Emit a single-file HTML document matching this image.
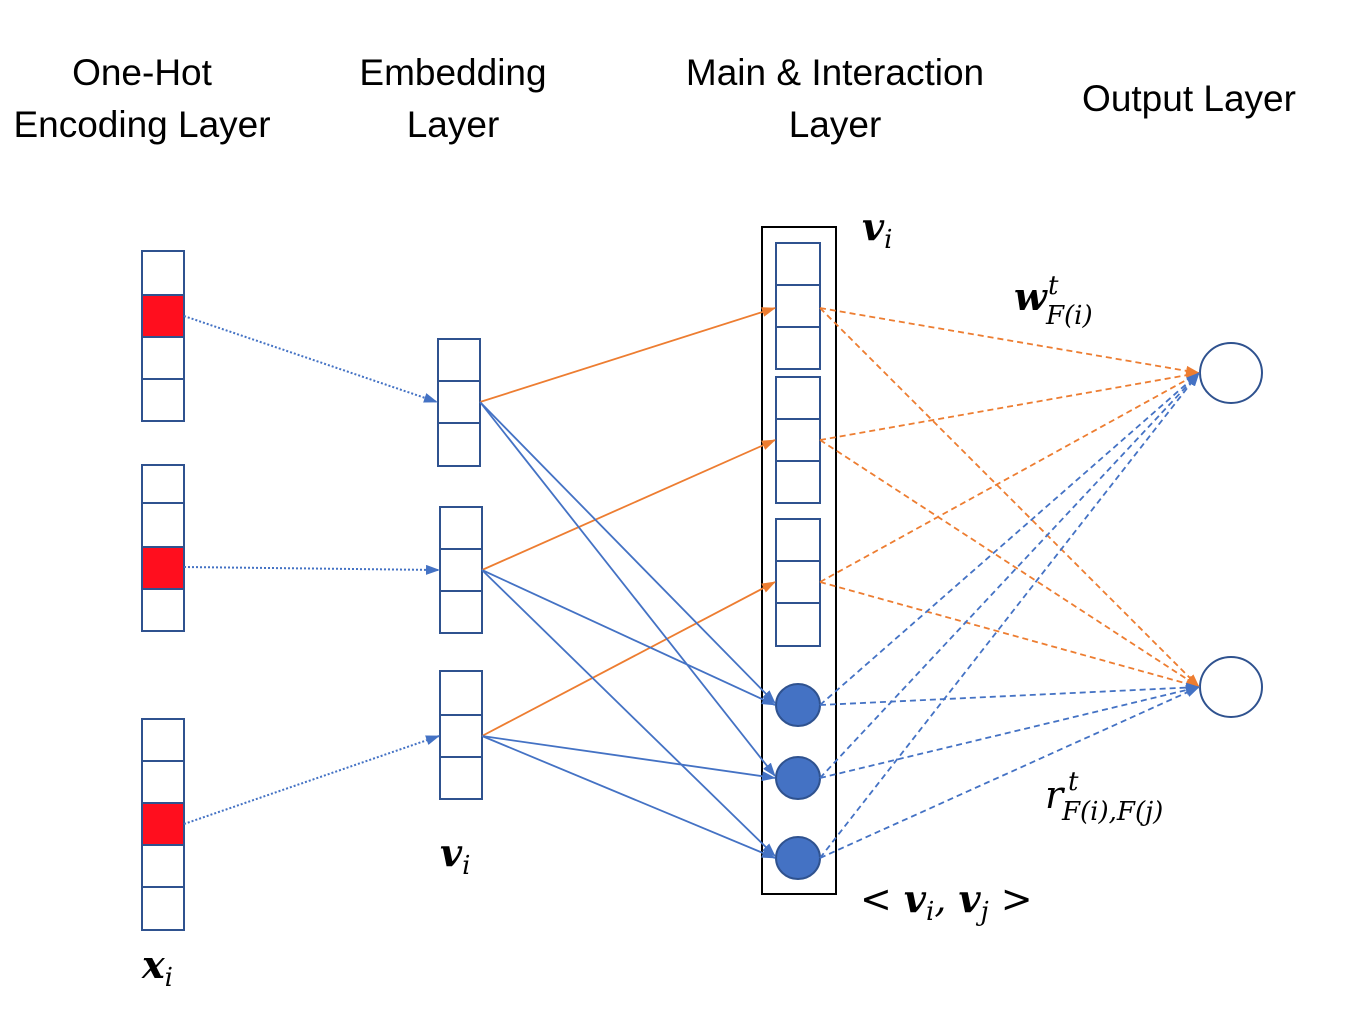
<!DOCTYPE html>
<html><head><meta charset="utf-8"><style>
html,body{margin:0;padding:0;background:#fff;}
svg{display:block}
.h{font-family:"Liberation Sans",sans-serif;font-size:37px;fill:#000;text-anchor:middle}
.m{font-family:"DejaVu Serif","Liberation Serif",serif;font-style:italic;fill:#000}
</style></head><body>
<svg width="1368" height="1022" viewBox="0 0 1368 1022" xmlns="http://www.w3.org/2000/svg">
<defs>
<marker id="ab" markerWidth="14" markerHeight="10" refX="13" refY="5" orient="auto" markerUnits="userSpaceOnUse"><path d="M0,0 L14,5 L0,10 z" fill="#4472C4"/></marker>
<marker id="ao" markerWidth="14" markerHeight="10" refX="13" refY="5" orient="auto" markerUnits="userSpaceOnUse"><path d="M0,0 L14,5 L0,10 z" fill="#ED7D31"/></marker>
</defs>
<text class="h" x="142" y="85">One-Hot</text>
<text class="h" x="142" y="137">Encoding Layer</text>
<text class="h" x="453" y="85">Embedding</text>
<text class="h" x="453" y="137">Layer</text>
<text class="h" x="835" y="85">Main &amp; Interaction</text>
<text class="h" x="835" y="137">Layer</text>
<text class="h" x="1189" y="111">Output Layer</text>

<g fill="#fff" stroke="#2F528F" stroke-width="2">
<rect x="142" y="251" width="42" height="44"/><rect x="142" y="295" width="42" height="42" fill="#FF0E1E"/><rect x="142" y="337" width="42" height="42"/><rect x="142" y="379" width="42" height="42"/>
<rect x="142" y="465" width="42" height="38"/><rect x="142" y="503" width="42" height="44"/><rect x="142" y="547" width="42" height="42" fill="#FF0E1E"/><rect x="142" y="589" width="42" height="42"/>
<rect x="142" y="719" width="42" height="42"/><rect x="142" y="761" width="42" height="42"/><rect x="142" y="803" width="42" height="42" fill="#FF0E1E"/><rect x="142" y="845" width="42" height="42"/><rect x="142" y="887" width="42" height="43"/>
<rect x="438" y="339" width="42" height="42"/><rect x="438" y="381" width="42" height="42"/><rect x="438" y="423" width="42" height="43"/>
<rect x="440" y="507" width="42" height="42"/><rect x="440" y="549" width="42" height="42"/><rect x="440" y="591" width="42" height="42"/>
<rect x="440" y="671" width="42" height="44"/><rect x="440" y="715" width="42" height="42"/><rect x="440" y="757" width="42" height="42"/>
</g>
<rect x="762" y="227" width="74" height="667" fill="none" stroke="#000" stroke-width="2"/>
<g fill="#fff" stroke="#2F528F" stroke-width="2">
<rect x="776" y="243" width="44" height="42"/><rect x="776" y="285" width="44" height="42"/><rect x="776" y="327" width="44" height="42"/>
<rect x="776" y="377" width="44" height="42"/><rect x="776" y="419" width="44" height="42"/><rect x="776" y="461" width="44" height="42"/>
<rect x="776" y="519" width="44" height="42"/><rect x="776" y="561" width="44" height="42"/><rect x="776" y="603" width="44" height="43"/>
</g>
<g fill="#4472C4" stroke="#2F528F" stroke-width="2">
<ellipse cx="798" cy="705" rx="22" ry="21"/><ellipse cx="798" cy="778" rx="22" ry="21"/><ellipse cx="798" cy="858" rx="22" ry="21"/>
</g>
<g fill="#fff" stroke="#2F528F" stroke-width="2">
<ellipse cx="1231" cy="373" rx="31" ry="30"/><ellipse cx="1231" cy="687" rx="31" ry="30"/>
</g>

<g stroke="#4472C4" stroke-width="2" stroke-dasharray="2,2" fill="none">
<line x1="184" y1="316" x2="437" y2="402" marker-end="url(#ab)"/>
<line x1="184" y1="567" x2="439" y2="570" marker-end="url(#ab)"/>
<line x1="184" y1="824" x2="439" y2="736" marker-end="url(#ab)"/>
</g>
<g stroke="#ED7D31" stroke-width="1.8" fill="none">
<line x1="480" y1="402" x2="775" y2="308" marker-end="url(#ao)"/>
<line x1="482" y1="570" x2="775" y2="440" marker-end="url(#ao)"/>
<line x1="482" y1="736" x2="775" y2="582" marker-end="url(#ao)"/>
</g>
<g stroke="#4472C4" stroke-width="1.8" fill="none">
<line x1="480" y1="402" x2="775" y2="703" marker-end="url(#ab)"/>
<line x1="480" y1="402" x2="775" y2="776" marker-end="url(#ab)"/>
<line x1="482" y1="570" x2="775" y2="705" marker-end="url(#ab)"/>
<line x1="482" y1="570" x2="775" y2="856" marker-end="url(#ab)"/>
<line x1="482" y1="736" x2="775" y2="778" marker-end="url(#ab)"/>
<line x1="482" y1="736" x2="775" y2="858" marker-end="url(#ab)"/>
</g>
<g stroke="#ED7D31" stroke-width="1.8" stroke-dasharray="6,4" fill="none">
<line x1="820" y1="308" x2="1199" y2="373" marker-end="url(#ao)"/>
<line x1="820" y1="308" x2="1199" y2="687" marker-end="url(#ao)"/>
<line x1="820" y1="440" x2="1199" y2="373" marker-end="url(#ao)"/>
<line x1="820" y1="440" x2="1199" y2="687" marker-end="url(#ao)"/>
<line x1="820" y1="582" x2="1199" y2="373" marker-end="url(#ao)"/>
<line x1="820" y1="582" x2="1199" y2="687" marker-end="url(#ao)"/>
</g>
<g stroke="#4472C4" stroke-width="1.8" stroke-dasharray="6,4" fill="none">
<line x1="820" y1="705" x2="1199" y2="373" marker-end="url(#ab)"/>
<line x1="820" y1="705" x2="1199" y2="687" marker-end="url(#ab)"/>
<line x1="820" y1="778" x2="1199" y2="373" marker-end="url(#ab)"/>
<line x1="820" y1="778" x2="1199" y2="687" marker-end="url(#ab)"/>
<line x1="820" y1="858" x2="1199" y2="373" marker-end="url(#ab)"/>
<line x1="820" y1="858" x2="1199" y2="687" marker-end="url(#ab)"/>
</g>

<text class="m" x="862" y="240" font-size="38" font-weight="bold">v<tspan font-size="26" dy="8" font-weight="normal">i</tspan></text>
<text class="m" x="440" y="866" font-size="38" font-weight="bold">v<tspan font-size="26" dy="8" font-weight="normal">i</tspan></text>
<text class="m" x="142" y="978" font-size="38" font-weight="bold">x<tspan font-size="26" dy="8" font-weight="normal">i</tspan></text>
<text class="m" x="1014" y="310" font-size="38" font-weight="bold">w</text>
<text class="m" x="1048" y="294" font-size="26">t</text>
<text class="m" x="1046" y="324" font-size="26">F(i)</text>
<text class="m" x="1045" y="808" font-size="38">r</text>
<text class="m" x="1068" y="790" font-size="26">t</text>
<text class="m" x="1062" y="820" font-size="26">F(i),F(j)</text>
<text class="m" x="860" y="912" font-size="38">&lt; <tspan font-weight="bold">v</tspan><tspan font-size="26" dy="8">i</tspan><tspan dy="-8">, </tspan><tspan font-weight="bold">v</tspan><tspan font-size="26" dy="8">j</tspan><tspan dy="-8"> &gt;</tspan></text>
</svg>
</body></html>
